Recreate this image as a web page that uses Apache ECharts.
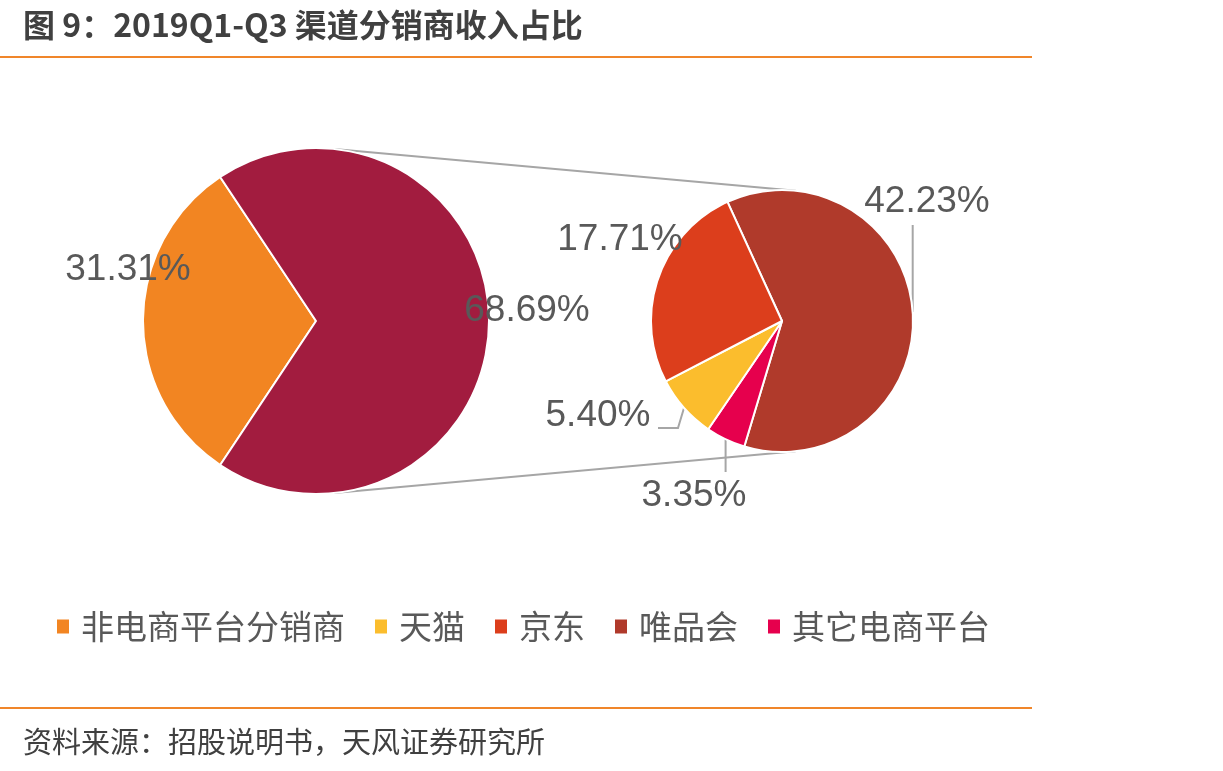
<!DOCTYPE html>
<html>
<head>
<meta charset="utf-8">
<script src="https://cdn.jsdelivr.net/npm/echarts@6/dist/echarts.min.js"></script>
<style>
html, body { margin: 0; padding: 0; background: #fff; }
#main { width: 1223px; height: 771px; }
</style>
</head>
<body>
<div id="main"></div>
<script>
// data
var leftNames = ['非电商平台分销商', '电商平台分销商'];
var leftValues = [31.31, 68.69];
var rightNames = ['唯品会', '其它电商平台', '天猫', '京东'];
var rightValues = [42.23, 3.35, 5.40, 17.71];
var legendNames = ['非电商平台分销商', '天猫', '京东', '唯品会', '其它电商平台'];

var colors = {
	'非电商平台分销商': '#F28522',
	'电商平台分销商': '#A21C3F',
	'唯品会': '#B03A2B',
	'其它电商平台': '#E6004D',
	'天猫': '#FBBD2D',
	'京东': '#DC3E1C'
};

var L = { x: 316, y: 321, r: 173 };
var R = { x: 782, y: 321, r: 131 };
var gray = '#A6A6A6';
var orange = '#F0862A';

function toData(names, values) {
	return names.map(function(n, i) {
		return { name: n, value: values[i], itemStyle: { color: colors[n] } };
	});
}
function pct(p) { return p.value.toFixed(2) + '%'; }

// connector points between the two pies
var ang = 84 * Math.PI / 180;
var lt = [L.x + L.r * Math.cos(ang), L.y - L.r * Math.sin(ang)];
var lb = [L.x + L.r * Math.cos(ang), L.y + L.r * Math.sin(ang)];
var rt = [R.x + R.r * Math.cos(ang), R.y - R.r * Math.sin(ang)];
var rb = [R.x + R.r * Math.cos(ang), R.y + R.r * Math.sin(ang)];

var labelStyle = {
	formatter: pct,
	fontSize: 37,
	color: '#595959',
	fontFamily: 'Liberation Sans',
	overflow: 'none'
};

var myChart = echarts.init(document.getElementById('main'));
var option = {
	animation: false,
	title: [{
		text: '图 9：2019Q1-Q3 渠道分销商收入占比',
		left: 18,
		top: 4,
		textStyle: { fontSize: 32, fontWeight: 'bold', color: '#404040', fontFamily: 'Noto Sans CJK SC' }
	}, {
		text: '资料来源：招股说明书，天风证券研究所',
		left: 18,
		top: 722,
		textStyle: { fontSize: 29, fontWeight: 'normal', color: '#404040', fontFamily: 'Noto Sans CJK SC' }
	}],
	legend: {
		data: legendNames,
		left: 55,
		top: 610,
		padding: 0,
		icon: 'rect',
		itemWidth: 14,
		itemHeight: 16,
		itemGap: 28,
		textStyle: { fontSize: 33, color: '#595959', fontFamily: 'Noto Sans CJK SC', padding: [0, 0, 0, 6] }
	},
	graphic: [
		{ type: 'line', shape: { x1: 0, y1: 57, x2: 1032, y2: 57 }, style: { stroke: orange, lineWidth: 2 } },
		{ type: 'line', shape: { x1: 0, y1: 708, x2: 1032, y2: 708 }, style: { stroke: orange, lineWidth: 2 } },
		{ type: 'line', z: -1, shape: { x1: lt[0], y1: lt[1], x2: rt[0], y2: rt[1] }, style: { stroke: gray, lineWidth: 2 } },
		{ type: 'line', z: -1, shape: { x1: lb[0], y1: lb[1], x2: rb[0], y2: rb[1] }, style: { stroke: gray, lineWidth: 2 } }
	],
	series: [{
		type: 'pie',
		center: [L.x, L.y],
		radius: L.r,
		startAngle: 180 + leftValues[0] * 1.8,
		clockwise: true,
		itemStyle: { borderColor: '#fff', borderWidth: 2 },
		label: Object.assign({ position: 'outside' }, labelStyle),
		labelLine: { show: false },
		emphasis: { disabled: true },
		labelLayout: function(p) {
			var off = [[-188, -51], [211, -10]][p.dataIndex];
			return { x: L.x + off[0], y: L.y + off[1], align: 'center', verticalAlign: 'middle' };
		},
		data: toData(leftNames, leftValues)
	}, {
		type: 'pie',
		center: [R.x, R.y],
		radius: R.r,
		startAngle: 114.6,
		clockwise: true,
		itemStyle: { borderColor: '#fff', borderWidth: 2 },
		label: Object.assign({ position: 'outside' }, labelStyle),
		labelLine: { show: true, lineStyle: { color: gray, width: 2 } },
		emphasis: { disabled: true },
		labelLayout: function(p) {
			var i = p.dataIndex;
			var p0 = p.labelLinePoints ? p.labelLinePoints[0] : [R.x, R.y];
			if (i === 0) {
				return { x: R.x + 145, y: R.y - 119, align: 'center', verticalAlign: 'middle',
					labelLinePoints: [p0, [p0[0], R.y - 96], [p0[0], R.y - 96]] };
			} else if (i === 1) {
				return { x: R.x - 88, y: R.y + 175, align: 'center', verticalAlign: 'middle',
					labelLinePoints: [p0, [p0[0], R.y + 151], [p0[0], R.y + 151]] };
			} else if (i === 2) {
				return { x: R.x - 184, y: R.y + 95, align: 'center', verticalAlign: 'middle',
					labelLinePoints: [p0, [p0[0] - 6, R.y + 107], [R.x - 124, R.y + 107]] };
			}
			return { x: R.x - 162, y: R.y - 81, align: 'center', verticalAlign: 'middle',
				labelLinePoints: [p0, p0, p0] };
		},
		data: toData(rightNames, rightValues)
	}]
};
myChart.setOption(option);
</script>
</body>
</html>
